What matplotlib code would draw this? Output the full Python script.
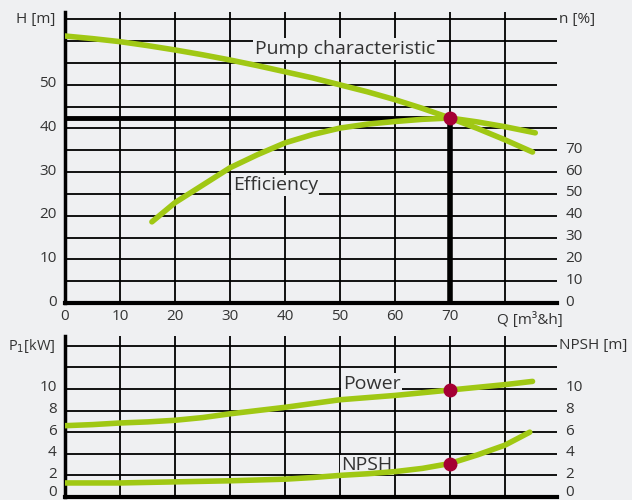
import matplotlib.pyplot as plt
import matplotlib.transforms as mtransforms
import numpy as np

plt.rcParams['font.family'] = ['Open Sans', 'DejaVu Sans']

# pump data
q_pump = [0, 5, 10, 15, 20, 25, 30, 35, 40, 45, 50, 55, 60, 65, 70, 75, 80, 85]
h_pump = [61.2, 60.6, 59.9, 59.0, 58.0, 56.9, 55.7, 54.4, 53.0, 51.6, 50.0, 48.4,
          46.6, 44.6, 42.4, 40.0, 37.4, 34.6]

q_eff = [15.8, 20, 25, 27.5, 30, 35, 40, 45, 50, 55, 60, 65, 70, 75, 80, 85.5]
h_eff = [18.6, 23.0, 27.0, 29.0, 31.0, 34.0, 36.7, 38.6, 40.1, 41.0, 41.6, 42.1,
         42.4, 41.5, 40.4, 39.0]

q_power = [0, 5, 10, 15, 20, 25, 30, 35, 40, 45, 50, 55, 60, 65, 70, 75, 80, 85]
p_power = [6.6, 6.7, 6.85, 6.95, 7.1, 7.35, 7.7, 8.0, 8.3, 8.65, 9.0, 9.2, 9.4,
           9.65, 9.9, 10.15, 10.4, 10.7]

q_npsh = [0, 10, 20, 30, 40, 45, 50, 55, 60, 65, 70, 75, 80, 84.5]
npsh = [1.3, 1.3, 1.4, 1.5, 1.65, 1.8, 2.0, 2.15, 2.35, 2.65, 3.1, 3.9, 4.8, 6.0]

duty_q = 70
duty_h = 42.5
duty_p = 9.9
duty_npsh = 3.1

h_ticks = [0, 10, 20, 30, 40, 50]
n_ticks = [0, 10, 20, 30, 40, 50, 60, 70]
q_ticks = [0, 10, 20, 30, 40, 50, 60, 70]
p_ticks = [0, 2, 4, 6, 8, 10]

bg = '#eff0f2'
green = '#a0c814'
red = '#a50034'
txt = '#333333'

W, H = 632, 500
fig = plt.figure(figsize=(6.32, 5.0), dpi=100, facecolor=bg)


def px_axes(x0, x1, ytop, ybot):
    return fig.add_axes([x0 / W, 1 - ybot / H, (x1 - x0) / W, (ybot - ytop) / H])


def setup(ax, ymax, hgrid):
    ax.set_facecolor(bg)
    ax.set_xlim(0, 89.45)
    ax.set_ylim(0, ymax)
    for s in ['top', 'right']:
        ax.spines[s].set_visible(False)
    ax.spines['left'].set_linewidth(2.5)
    ax.spines['bottom'].set_linewidth(3)
    for v in hgrid:
        ax.axhline(v, color='black', lw=1.3, zorder=1)
    for v in range(10, 90, 10):
        ax.axvline(v, color='black', lw=1.3, zorder=1)
    ax.tick_params(length=0, labelsize=11, colors=txt)


def lift_labels(ax, px=3, px_zero=3):
    for lab in ax.get_yticklabels():
        d = px_zero if lab.get_text() == '0' else px
        shift = mtransforms.ScaledTranslation(0, d / 100, fig.dpi_scale_trans)
        lab.set_transform(lab.get_transform() + shift)


def curve(ax, x, y):
    ax.plot(x, y, color=green, lw=4, solid_capstyle='round',
            solid_joinstyle='round', zorder=3)


# ---- top panel: head and efficiency
ax1 = px_axes(65, 557, 12, 303)
setup(ax1, 66.7, np.arange(5, 70, 5))
ax1.set_yticks(h_ticks)
ax1.set_xticks(q_ticks)
ax1.tick_params(axis='y', pad=6)
ax1.tick_params(axis='x', pad=4)

ax1.plot([0, duty_q], [duty_h, duty_h], color='black', lw=3.5, zorder=2)
ax1.plot([duty_q, duty_q], [0, duty_h], color='black', lw=4, zorder=2)
curve(ax1, q_pump, h_pump)
curve(ax1, q_eff, h_eff)
ax1.plot(duty_q, duty_h, 'o', color=red, ms=9, zorder=4)

ax1.text(34.5, 58.3, 'Pump characteristic', fontsize=14, color=txt, va='center',
         bbox=dict(facecolor=bg, edgecolor='none', pad=1.5), zorder=2)
ax1.text(30.5, 27.0, 'Efficiency', fontsize=14, color=txt, va='center',
         bbox=dict(facecolor=bg, edgecolor='none', pad=1), zorder=2)

ax1.text(-0.02, 65, 'H [m]', transform=ax1.get_yaxis_transform(), ha='right',
         va='center', fontsize=11, color=txt)
ax1.text(1.005, 65, 'n [%]', transform=ax1.get_yaxis_transform(), ha='left',
         va='center', fontsize=11, color=txt)
ax1.text(84.5, -0.03, 'Q [m³&h]', transform=ax1.get_xaxis_transform(), ha='center',
         va='top', fontsize=11, color=txt)

ax1r = ax1.twinx()
ax1r.set_ylim(0, 66.7 * 2)
ax1r.set_yticks(n_ticks)
ax1r.tick_params(length=0, labelsize=11, colors=txt, pad=6)
for s in ax1r.spines.values():
    s.set_visible(False)

# ---- bottom panel: power and NPSH
ax2 = px_axes(65, 557, 336, 497)
setup(ax2, 14.9, np.arange(2, 16, 2))
ax2.set_yticks(p_ticks)
ax2.set_xticks([])
ax2.tick_params(axis='y', pad=6)

curve(ax2, q_power, p_power)
curve(ax2, q_npsh, npsh)
ax2.plot([duty_q, duty_q], [duty_p, duty_npsh], 'o', color=red, ms=9, zorder=4)

ax2.text(50.5, 10.5, 'Power', fontsize=14, color=txt, va='center',
         bbox=dict(facecolor=bg, edgecolor='none', pad=1), zorder=2)
ax2.text(50.2, 2.95, 'NPSH', fontsize=14, color=txt, va='center',
         bbox=dict(facecolor=bg, edgecolor='none', pad=1), zorder=2)

ax2.text(-0.02, 14, 'P$_1$[kW]', transform=ax2.get_yaxis_transform(), ha='right',
         va='center', fontsize=10.5, color=txt)
ax2.text(1.005, 14, 'NPSH [m]', transform=ax2.get_yaxis_transform(), ha='left',
         va='center', fontsize=11, color=txt)

ax2r = ax2.twinx()
ax2r.set_ylim(0, 14.9)
ax2r.set_yticks(p_ticks)
ax2r.tick_params(length=0, labelsize=11, colors=txt, pad=6)
for s in ax2r.spines.values():
    s.set_visible(False)

# tick labels sit a little above their grid lines in the reference
fig.canvas.draw()
lift_labels(ax1)
lift_labels(ax1r)
lift_labels(ax2, 3, 6)
lift_labels(ax2r, 3, 6)

fig.savefig('out.png', dpi=100, facecolor=bg)
